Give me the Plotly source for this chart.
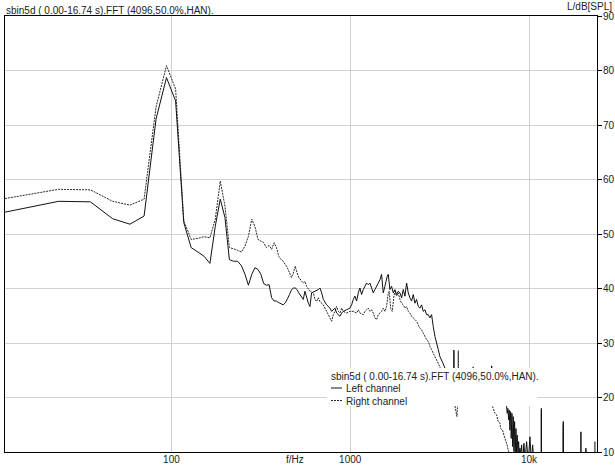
import math
import plotly.graph_objects as go

# ---- spectrum data -------------------------------------------------------
# Lowest FFT bins (48 kHz / 4096 points -> 11.72 Hz spacing), shared by both channels
bin_hz = [11.7, 23.4, 35.2, 46.9, 58.6, 70.3, 82.0, 93.8, 105.5, 117.2,
          128.9, 140.6, 152.3, 164.1, 175.8, 187.5, 199.2, 210.9, 222.7, 234.4,
          246.1, 257.8, 269.5, 281.3, 293.0, 304.7, 316.4, 328.1, 339.8, 351.6,
          363.3, 375.0, 386.7, 398.4, 410.2, 421.9, 433.6, 445.3, 457.0, 468.8,
          480.5, 492.2, 503.9, 515.6]
left_low_db = [54.0, 56.0, 55.9, 52.8, 51.8, 53.3, 71.1, 78.7, 74.4, 52.1,
               47.5, 46.7, 45.9, 44.6, 51.4, 56.4, 53.0, 45.3, 45.0, 45.0,
               44.2, 42.6, 40.6, 42.6, 43.8, 43.5, 42.6, 40.9, 40.6, 40.7,
               38.3, 37.7, 37.7, 37.4, 37.2, 37.0, 37.4, 38.1, 38.9, 39.7,
               40.1, 40.1, 39.8, 39.2]
right_low_db = [56.5, 58.2, 58.1, 56.0, 55.3, 56.4, 73.3, 80.9, 76.6, 52.4,
                49.0, 49.2, 49.5, 49.3, 52.7, 59.7, 55.1, 47.5, 47.3, 47.0,
                46.7, 47.8, 49.6, 52.7, 51.4, 49.0, 48.7, 48.4, 47.5, 47.9,
                47.2, 48.4, 47.5, 45.9, 45.3, 45.0, 44.4, 43.8, 42.9, 42.0,
                42.8, 44.1, 42.9, 42.0]

# Upper range, left channel
left_hi_hz = [546, 558, 583, 595, 608, 635, 663, 677, 692, 707,
              738, 770, 787, 821, 839, 876, 895, 914, 954, 996,
              1018, 1040, 1062, 1085, 1109, 1133, 1157, 1183, 1208, 1235,
              1261, 1289, 1317, 1345, 1374, 1435, 1466, 1497, 1530, 1563,
              1611, 1632, 1667, 1703, 1740, 1778, 1816, 1856, 1896, 1938,
              1980, 2023, 2067, 2111, 2157, 2204, 2252, 2301, 2350, 2401,
              2453, 2507, 2561, 2617, 2673, 2731, 2791, 2851, 2913, 2977,
              3041, 3107, 3174, 3280, 3386, 3550, 3780, 3800, 3820, 4300,
              4800, 5500, 6150, 6180, 6210, 6700, 7200, 7494, 7553, 7621,
              7690, 7749, 7820, 7890, 7951, 8023, 8096, 8160, 8233, 8307,
              8371, 8449, 8525, 8590, 8670, 8748, 8815, 8896, 8976, 9090,
              9200, 9365, 9500, 9696, 9900, 10118, 10300, 10476, 10700, 11000,
              11710, 11720, 11730, 15530, 15540, 15550, 19500, 19510, 19520, 20800,
              20810, 20820, 23990]
left_hi_db = [38.0, 39.5, 37.3, 36.7, 39.2, 39.5, 39.8, 40.1, 39.2, 38.0,
              37.0, 36.4, 35.8, 36.4, 35.5, 34.9, 35.5, 35.8, 36.1, 36.4,
              37.0, 38.0, 38.6, 37.7, 39.2, 40.1, 38.9, 39.8, 40.4, 41.0,
              40.7, 41.0, 40.1, 39.2, 39.8, 41.0, 41.6, 42.6, 39.2, 40.4,
              42.3, 42.6, 39.8, 40.4, 39.2, 39.8, 38.9, 39.5, 39.2, 38.3,
              39.8, 38.6, 41.0, 39.2, 38.3, 37.7, 38.9, 37.3, 38.0, 36.7,
              36.4, 37.0, 35.8, 36.1, 35.2, 35.2, 34.6, 35.2, 33.0, 31.2,
              30.0, 28.8, 27.5, 26.5, 25.4, 23.5, 22.0, 28.7, 22.0, 22.5,
              21.5, 22.0, 21.0, 25.8, 21.0, 20.5, 19.5, 18.3, 17.1, 18.0,
              15.9, 17.7, 14.0, 17.4, 12.5, 17.1, 11.0, 16.5, 10.1, 15.6,
              9.8, 14.3, 9.8, 13.1, 9.8, 11.9, 9.4, 10.7, 9.4, 11.3,
              8.0, 11.6, 8.5, 11.9, 8.0, 12.8, 8.0, 11.3, 7.0, 6.0,
              6.0, 18.0, 6.0, 6.0, 15.6, 6.0, 6.0, 13.7, 6.0, 6.0,
              10.7, 6.0, 6.0]

# Upper range, right channel
right_hi_hz = [546, 558, 570, 595, 621, 635, 648, 663, 677, 707,
               722, 738, 754, 770, 787, 804, 821, 839, 857, 876,
               895, 914, 954, 996, 1040, 1085, 1109, 1133, 1183, 1208,
               1235, 1261, 1289, 1317, 1345, 1374, 1404, 1435, 1466, 1497,
               1530, 1563, 1597, 1632, 1653, 1682, 1718, 1755, 1778, 1816,
               1856, 1896, 1938, 1980, 2023, 2067, 2111, 2157, 2204, 2252,
               2301, 2350, 2453, 2507, 2561, 2673, 2731, 2791, 2851, 2913,
               2977, 3041, 3174, 3300, 3500, 3750, 3950, 3990, 4020, 4050,
               4400, 4850, 4870, 4890, 5300, 5800, 6256, 6447, 6588, 6726,
               6875, 6937, 7118, 7238, 7332, 7494, 7650, 7820, 8200, 11720,
               11730, 11740, 15540, 15550, 15560, 23360, 23370, 23380, 23990]
right_hi_db = [41.0, 41.3, 40.4, 39.5, 39.2, 38.0, 37.6, 38.3, 37.6, 37.0,
               36.4, 35.8, 35.2, 34.6, 34.0, 35.2, 35.8, 36.7, 35.8, 35.5,
               36.4, 35.8, 35.5, 35.8, 35.8, 35.5, 36.1, 35.5, 35.2, 35.8,
               36.1, 36.4, 35.8, 36.1, 35.5, 34.6, 34.3, 35.2, 35.5, 35.8,
               36.4, 35.8, 36.7, 39.2, 39.5, 36.4, 35.8, 38.6, 39.5, 38.6,
               39.2, 38.0, 37.3, 37.0, 36.4, 36.7, 35.8, 35.5, 34.9, 34.6,
               34.3, 34.0, 32.7, 32.4, 31.8, 30.6, 30.3, 29.4, 28.8, 28.1,
               27.5, 26.9, 25.6, 24.0, 22.0, 20.5, 16.5, 19.0, 28.6, 19.5,
               21.0, 21.5, 25.7, 21.5, 20.5, 19.5, 18.3, 17.1, 16.8, 15.6,
               15.3, 14.3, 14.0, 13.1, 12.5, 11.6, 10.4, 9.0, 7.0, 6.0,
               17.5, 6.0, 6.0, 15.0, 6.0, 6.0, 11.9, 6.0, 6.0]

assert len(bin_hz) == len(left_low_db) == len(right_low_db)
assert len(left_hi_hz) == len(left_hi_db)
assert len(right_hi_hz) == len(right_hi_db)

left_hz = bin_hz + left_hi_hz
left_db = left_low_db + left_hi_db
right_hz = bin_hz + right_hi_hz
right_db = right_low_db + right_hi_db

# ---- axes & labels ------------------------------------------------------
freq_tick_vals = [100, 1000, 10000]
freq_tick_text = ["100", "1000", "10k"]
level_tick_vals = [10, 20, 30, 40, 50, 60, 70, 80, 90]
f_min, f_max = 11.72, 24000
level_min, level_max = 10, 90

caption = "sbin5d ( 0.00-16.74 s).FFT (4096,50.0%,HAN)."
series_names = ["Left channel", "Right channel"]
x_title = "f/Hz"
y_title = "L/dB[SPL]"

# ---- page geometry ------------------------------------------------------
W, H = 615, 466
M = dict(l=5, r=18, t=16, b=14)
plot_w = W - M["l"] - M["r"]
plot_h = H - M["t"] - M["b"]


def px(x):
    """pixel column -> paper x"""
    return (x - M["l"]) / plot_w


def py(y):
    """pixel row -> paper y"""
    return (H - M["b"] - y) / plot_h


FONT = "Liberation Sans, Arial, sans-serif"
TXT = "#222222"
GRID = "#d2d2d2"
DOT = "2px,1px"

fig = go.Figure()
fig.add_trace(go.Scatter(
    x=right_hz, y=right_db, mode="lines", name=series_names[1],
    line=dict(color="#262626", width=1, dash=DOT, simplify=False),
    hoverinfo="skip"))
fig.add_trace(go.Scatter(
    x=left_hz, y=left_db, mode="lines", name=series_names[0],
    line=dict(color="#111111", width=1, simplify=False),
    hoverinfo="skip"))

fig.update_layout(
    width=W, height=H, autosize=False, margin=M,
    paper_bgcolor="white", plot_bgcolor="white",
    showlegend=False,
    font=dict(family=FONT, size=10, color=TXT),
)
fig.update_xaxes(
    type="log", range=[math.log10(f_min), math.log10(f_max)],
    tickmode="array", tickvals=freq_tick_vals, ticktext=freq_tick_text,
    showgrid=True, gridcolor=GRID, gridwidth=1,
    showline=True, linecolor="black", linewidth=1, mirror=True,
    ticks="", zeroline=False, automargin=False, ticklabelstandoff=-2,
    tickfont=dict(family=FONT, size=10, color=TXT),
)
fig.update_yaxes(
    range=[level_min, level_max], tickmode="array", tickvals=level_tick_vals,
    side="right", ticks="outside", ticklen=4, tickcolor="black", tickwidth=1,
    showgrid=True, gridcolor=GRID, gridwidth=1,
    showline=True, linecolor="black", linewidth=1, mirror=True,
    zeroline=False, automargin=False, ticklabelstandoff=-1,
    tickfont=dict(family=FONT, size=10, color=TXT),
)

# ---- legend block drawn over the traces ---------------------------------
shapes = [
    dict(type="rect", xref="paper", yref="paper", layer="above",
         x0=px(327), x1=px(537), y0=py(406), y1=py(368),
         fillcolor="white", line=dict(width=0)),
    dict(type="line", xref="paper", yref="paper", layer="above",
         x0=px(331), x1=px(342), y0=py(388), y1=py(388),
         line=dict(color="#111111", width=1)),
    dict(type="line", xref="paper", yref="paper", layer="above",
         x0=px(331), x1=px(342), y0=py(400.5), y1=py(400.5),
         line=dict(color="#262626", width=1, dash=DOT)),
]
fig.update_layout(shapes=shapes)

ann = [
    dict(text=caption, x=px(4), y=py(10.5), xanchor="left", yanchor="middle"),
    dict(text=y_title, x=px(614), y=py(6.5), xanchor="right", yanchor="middle"),
    dict(text=x_title, x=px(295), y=py(460), xanchor="center", yanchor="middle"),
    dict(text=caption, x=px(329), y=py(376), xanchor="left", yanchor="middle"),
    dict(text=series_names[0], x=px(344), y=py(388.5), xanchor="left", yanchor="middle"),
    dict(text=series_names[1], x=px(344), y=py(401), xanchor="left", yanchor="middle"),
]
for a in ann:
    a.update(xref="paper", yref="paper", showarrow=False,
             font=dict(family=FONT, size=10, color=TXT))
fig.update_layout(annotations=ann)

fig.write_html("out.html", config={"displayModeBar": False})
